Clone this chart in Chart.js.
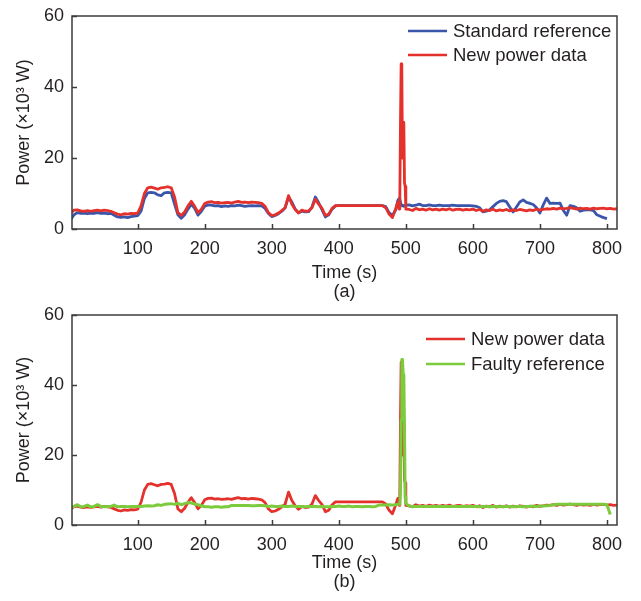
<!DOCTYPE html>
<html>
<head>
<meta charset="utf-8">
<script src="https://cdn.jsdelivr.net/npm/chart.js@4"></script>
<style>
  body { margin: 0; background: #fff; }
  canvas { position: absolute; left: 0; }
</style>
</head>
<body>
<canvas id="chartA" width="641" height="305" style="top:0"></canvas>
<canvas id="chartB" width="641" height="296" style="top:305px"></canvas>
<script>
// time axis (s), denser around the spike near 495 s
const time = [
  0, 5, 10, 15, 20, 25, 30, 35, 40, 45,
  50, 55, 60, 65, 70, 75, 80, 85, 90, 95,
  100, 105, 110, 115, 120, 125, 130, 135, 140, 145,
  150, 155, 160, 165, 170, 175, 180, 185, 190, 195,
  200, 205, 210, 215, 220, 225, 230, 235, 240, 245,
  250, 255, 260, 265, 270, 275, 280, 285, 290, 295,
  300, 305, 310, 315, 320, 325, 330, 335, 340, 345,
  350, 355, 360, 365, 370, 375, 380, 385, 390, 395,
  400, 405, 410, 415, 420, 425, 430, 435, 440, 445,
  450, 455, 460, 465, 470, 475, 480, 485,
  488, 490, 491, 492, 493, 494, 495, 496, 497, 498, 499, 500,
  505, 510, 515, 520, 525, 530, 535, 540, 545, 550,
  555, 560, 565, 570, 575, 580, 585, 590, 595, 600,
  605, 610, 615, 620, 625, 630, 635, 640, 645, 650,
  655, 660, 665, 670, 675, 680, 685, 690, 695, 700,
  705, 710, 715, 720, 725, 730, 735, 740, 745, 750,
  755, 760, 765, 770, 775, 780, 785, 790, 795, 800,
  805, 810, 815
];

// power values (x10^3 W)
const newPower = [
  4.5, 5.3, 5.4, 5.1, 5.0, 5.2, 5.0, 5.2, 5.3, 5.1,
  5.3, 5.2, 5.0, 4.6, 4.2, 4.0, 4.3, 4.2, 4.4, 4.3,
  4.5, 6.5, 10.0, 11.6, 11.8, 11.5, 11.2, 11.6, 11.7, 11.9,
  11.6, 9.0, 4.6, 3.8, 4.8, 6.5, 7.8, 6.4, 4.6, 5.6,
  7.2, 7.6, 7.7, 7.4, 7.5, 7.3, 7.4, 7.5, 7.3, 7.6,
  7.8, 7.5, 7.6, 7.4, 7.6, 7.5, 7.4, 7.2, 6.4, 4.6,
  3.8, 4.0, 4.5, 5.2, 6.0, 9.4, 7.0, 5.5, 4.5, 5.3,
  5.0, 5.1, 6.0, 8.4, 7.0, 5.8, 3.8, 4.2, 5.8, 6.6,
  6.6, 6.6, 6.6, 6.6, 6.6, 6.6, 6.6, 6.6, 6.6, 6.6,
  6.6, 6.6, 6.6, 6.6, 6.0, 4.2, 3.2, 5.8,
  7.6, 5.6, 8.0, 30.0, 46.5, 45.0, 20.0, 29.8, 30.0, 13.0, 12.0, 5.6,
  5.5, 5.2, 5.8, 5.4, 5.6, 5.3, 5.7, 5.4, 5.6, 5.3,
  5.6, 5.4, 5.7, 5.3, 5.5, 5.6, 5.3, 5.5, 5.4, 5.6,
  5.2, 5.5, 5.0, 5.4, 5.2, 5.6, 5.1, 5.4, 5.2, 5.5,
  5.1, 5.4, 5.2, 5.5, 5.3, 5.1, 5.4, 5.2, 5.6, 5.3,
  5.5, 5.7, 5.6, 5.8, 5.6, 5.9, 5.7, 5.8, 6.0, 5.8,
  5.6, 5.9, 5.7, 5.8, 5.6, 5.9, 5.7, 5.8, 5.9, 5.7,
  5.8, 5.6, 5.7
];

const standardRef = [
  2.6, 4.0, 4.6, 4.4, 4.5, 4.3, 4.5, 4.4, 4.6, 4.4,
  4.5, 4.3, 4.4, 3.9, 3.4, 3.3, 3.4, 3.2, 3.5, 3.6,
  3.8, 5.0, 8.6, 10.2, 10.3, 10.2, 9.6, 9.4, 10.2, 10.3,
  10.2, 7.0, 4.0, 3.0, 4.0, 5.6, 7.0, 5.8, 3.9, 5.0,
  6.4, 6.8, 6.7, 6.5, 6.6, 6.3, 6.5, 6.4, 6.6, 6.5,
  6.7, 6.6, 6.4, 6.5, 6.6, 6.5, 6.6, 6.5, 5.8, 4.4,
  3.5, 3.8, 4.3, 5.0, 6.0, 9.0, 7.6, 5.6, 4.6, 5.0,
  4.8, 4.9, 6.2, 9.0, 7.4, 5.4, 3.4, 4.0, 5.6, 6.5,
  6.6, 6.6, 6.6, 6.6, 6.6, 6.6, 6.6, 6.6, 6.6, 6.6,
  6.6, 6.6, 6.6, 6.6, 6.3, 4.6, 3.8, 5.4,
  8.0, 8.6, 8.4, 7.6, 6.8, 6.6, 6.5, 6.6, 6.4, 6.6, 6.5, 6.7,
  6.8, 6.5, 6.7, 7.0, 6.6, 6.6, 6.8, 6.6, 6.6, 6.7,
  6.6, 6.6, 6.6, 6.7, 6.6, 6.6, 6.6, 6.6, 6.6, 6.5,
  6.4, 6.0, 4.8, 5.0, 5.4, 6.3, 7.2, 7.8, 8.0, 7.7,
  6.2, 4.8, 6.2, 7.6, 8.2, 7.5, 7.2, 6.9, 6.0, 4.5,
  6.8, 8.7, 7.2, 7.3, 7.2, 7.3, 5.2, 3.9, 6.6, 6.4,
  6.0, 5.0, 5.3, 5.4, 5.4, 5.2, 4.0, 3.6, 3.2, 2.9,
  null, null, null
];

const faultyRef = [
  5.2, 5.3, 5.8, 5.2, 5.3, 5.7, 5.2, 5.3, 5.8, 5.3,
  5.2, 5.3, 5.3, 5.7, 5.2, 5.3, 5.3, 5.2, 5.3, 5.3,
  5.3, 5.3, 5.4, 5.5, 5.4, 5.5, 5.8, 5.6, 5.9, 6.0,
  6.1, 5.9, 6.2, 5.8, 6.1, 6.4, 6.3, 6.0, 5.8, 5.5,
  5.2, 5.2, 5.1, 5.2, 5.2, 5.1, 5.2, 5.2, 5.6, 5.6,
  5.6, 5.6, 5.6, 5.6, 5.5, 5.5, 5.6, 5.6, 5.5, 5.3,
  5.4, 5.3, 5.3, 5.4, 5.3, 5.3, 5.4, 5.3, 5.3, 5.3,
  5.2, 5.3, 5.3, 5.3, 5.2, 5.3, 5.2, 5.2, 5.3, 5.3,
  5.4, 5.3, 5.3, 5.4, 5.2, 5.3, 5.3, 5.2, 5.3, 5.3,
  5.2, 5.3, 5.7, 5.7, 5.7, 5.8, 5.7, 5.8,
  5.9, 5.9, 6.0, 10.0, 30.0, 47.3, 47.3, 43.0, 42.9, 27.0, 8.0, 6.2,
  5.4, 5.3, 5.3, 5.3, 5.3, 5.3, 5.3, 5.3, 5.3, 5.3,
  5.3, 5.3, 5.3, 5.3, 5.3, 5.3, 5.3, 5.3, 5.3, 5.3,
  5.3, 5.2, 5.3, 5.3, 5.2, 5.3, 5.3, 5.2, 5.3, 5.3,
  5.3, 5.2, 5.3, 5.3, 5.2, 5.3, 5.3, 5.4, 5.3, 5.4,
  5.4, 5.5, 5.6, 5.8, 5.9, 5.9, 5.9, 5.9, 5.9, 5.9,
  5.9, 5.9, 5.9, 5.9, 5.9, 5.9, 5.9, 5.9, 5.9, 5.8,
  3.0, null, null
];

const xTicks = [100, 200, 300, 400, 500, 600, 700, 800];
const yTicks = [0, 20, 40, 60];

const RED = "#e4312b";
const BLUE = "#3a56ab";
const GREEN = "#7ccb3d";

Chart.defaults.font.family = "'Liberation Sans', Arial, sans-serif";
Chart.defaults.font.size = 18;
Chart.defaults.color = "#231f20";

function points(values) {
    return time.map((t, i) => ({ x: t, y: values[i] }));
}

function line(label, values, color, width) {
    return {
        label: label,
        data: points(values),
        borderColor: color,
        borderWidth: width,
        pointRadius: 0,
        tension: 0,
        borderJoinStyle: "round"
    };
}

// box round the plot, inward ticks and the legend
const framePlugin = {
    id: "frame",
    afterDraw(chart, args, opts) {
        const { ctx, chartArea: a, scales: { x, y } } = chart;
        ctx.save();
        ctx.strokeStyle = "#3c3c3c";
        ctx.lineWidth = 1.5;
        ctx.beginPath();
        x.ticks.forEach(t => {
            const px = Math.round(x.getPixelForValue(t.value)) + 0.5;
            ctx.moveTo(px, a.bottom);
            ctx.lineTo(px, a.bottom - 5);
        });
        y.ticks.forEach(t => {
            const py = Math.round(y.getPixelForValue(t.value)) + 0.5;
            ctx.moveTo(a.left, py);
            ctx.lineTo(a.left + 5, py);
        });
        ctx.stroke();
        ctx.strokeRect(a.left, a.top, a.width, a.height);

        ctx.font = "18.5px 'Liberation Sans', Arial, sans-serif";
        ctx.fillStyle = "#231f20";
        ctx.textBaseline = "middle";
        opts.order.forEach((idx, i) => {
            const ds = chart.data.datasets[idx];
            const ly = opts.y + i * opts.gap;
            ctx.strokeStyle = ds.borderColor;
            ctx.lineWidth = 2.5;
            ctx.beginPath();
            ctx.moveTo(opts.x, ly);
            ctx.lineTo(opts.x + 39, ly);
            ctx.stroke();
            ctx.fillText(ds.label, opts.x + 45, ly + 1);
        });
        ctx.restore();
    }
};

function makeChart(id, datasets, caption, padTop, xHeight, titlePad, legend) {
    const canvas = document.getElementById(id);
    return new Chart(canvas.getContext("2d"), {
        type: "line",
        data: { datasets: datasets },
        plugins: [framePlugin],
        options: {
            responsive: false,
            animation: false,
            layout: { padding: { top: padTop, right: 24, left: 0, bottom: 0 } },
            plugins: {
                legend: { display: false },
                tooltip: { enabled: false },
                frame: legend
            },
            scales: {
                x: {
                    type: "linear",
                    min: 2,
                    max: 815,
                    grid: { display: false, drawTicks: false },
                    border: { display: false },
                    afterBuildTicks: s => { s.ticks = xTicks.map(v => ({ value: v })); },
                    afterFit: s => { s.height = xHeight; s.paddingLeft = 0; s.paddingRight = 0; },
                    ticks: { padding: 9 },
                    title: {
                        display: true,
                        text: ["Time (s)", caption],
                        font: { size: 18, lineHeight: 1.05 },
                        padding: { top: 0, bottom: titlePad }
                    }
                },
                y: {
                    min: 0,
                    max: 60,
                    grid: { display: false, drawTicks: false },
                    border: { display: false },
                    afterBuildTicks: s => { s.ticks = yTicks.map(v => ({ value: v })); },
                    afterFit: s => { s.width = 72; s.paddingTop = 0; s.paddingBottom = 0; },
                    ticks: { padding: 8 },
                    title: {
                        display: true,
                        text: "Power (×10³ W)",
                        font: { size: 18, lineHeight: 1.05 },
                        padding: { top: 15, bottom: 0 }
                    }
                }
            }
        }
    });
}

// (a) standard reference vs new data, red on top
makeChart("chartA", [
    line("New power data", newPower, RED, 2.8),
    line("Standard reference", standardRef, BLUE, 2.8)
], "(a)", 16, 76, 3.5, { order: [1, 0], x: 408, y: 31, gap: 24 });

// (b) new data vs faulty reference, green on top
makeChart("chartB", [
    line("Faulty reference", faultyRef, GREEN, 3),
    line("New power data", newPower, RED, 2.8)
], "(b)", 10, 76, 9.5, { order: [1, 0], x: 426, y: 34, gap: 25 });
</script>
</body>
</html>
